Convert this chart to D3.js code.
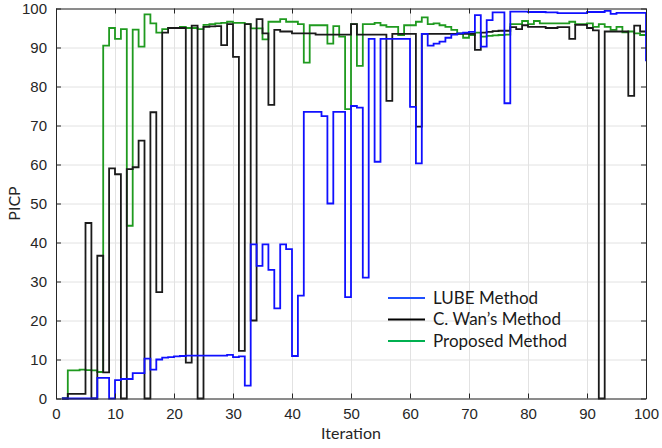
<!DOCTYPE html>
<html>
<head>
<meta charset="utf-8">
<script src="https://cdn.jsdelivr.net/npm/d3@7"></script>
<style>
  html, body { margin: 0; padding: 0; background: #fff; }
  svg { display: block; }
</style>
</head>
<body>
<div id="chart"></div>
<script>
// PICP per iteration (stairs)
const iterations = d3.range(1, 101);

const lubeValues = [
  0, 0, 0, 0, 0, 0, 5.3, 5.3, 0, 4.7,
  5.0, 5.0, 6.5, 6.5, 10.2, 7.4, 10.0, 10.5, 10.6, 10.8,
  10.9, 11, 11, 11, 11, 11, 11, 11, 11.2, 10.6,
  10.8, 3.3, 39.5, 34, 39.5, 33, 23.1, 39.5, 38.3, 10.9,
  26.4, 73.5, 73.5, 73.5, 72.4, 50, 73.5, 73.5, 26, 75,
  74.6, 31, 92.2, 60.7, 92.2, 92.2, 92.2, 92.2, 92.2, 74.8,
  60.3, 93.5, 90.5, 91, 91.5, 92.5, 93.3, 93.6, 93.8, 94,
  98.3, 90.2, 97, 99, 99, 75.7, 99.2, 99.2, 99.2, 99.1,
  99.1, 99.1, 99, 99, 98.8, 98.8, 98.8, 98.8, 98.8, 99.1,
  99.1, 99.1, 99.4, 98.6, 98.9, 98.9, 98.9, 98.9, 98.9, 86.5
];

const wanValues = [
  0, 1.2, 1.2, 1.2, 45, 0, 36.6, 6.7, 59, 57.5,
  0, 58.8, 59.3, 66.1, 0, 73.4, 27.3, 93.8, 95, 95,
  95, 9.2, 95.6, 0, 95.3, 95.4, 95.5, 90.6, 96, 87.6,
  12.2, 96, 20, 97.3, 93.6, 75.3, 94.5, 94.1, 94.1, 93.6,
  93.6, 93.6, 93.6, 93.3, 93.3, 93.3, 93.3, 93.3, 93.3, 96,
  93.3, 93.3, 93.3, 93.3, 93.3, 76.3, 93.5, 93.5, 93.5, 93.5,
  69.7, 93.5, 93.5, 93.5, 93.5, 93.5, 93.5, 93.5, 93.5, 93.5,
  89.4, 93.8, 94, 94.2, 94.3, 94.3, 95.2, 94.7, 95.7, 95.3,
  95.3, 95.3, 95, 95, 95.2, 95.2, 92.2, 95.8, 95.8, 95,
  94.4, 0, 94.1, 94.1, 94.1, 94.1, 77.6, 95.6, 94.1, 94
];

const proposedValues = [
  0, 7.2, 7.2, 7.4, 7.3, 7.2, 6.8, 90.5, 95, 92.2,
  94.7, 44.3, 94.6, 90.2, 98.5, 96.2, 93.8, 94.7, 95, 95,
  95.3, 95, 95, 94.7, 95.8, 96, 96.2, 96.3, 96.6, 96.3,
  96.3, 96, 94.9, 94.9, 92.1, 96.6, 96.6, 97.3, 96.6, 96.6,
  96, 86.1, 95.7, 95.7, 95.7, 91, 95.5, 92.8, 74.2, 96,
  85.3, 96, 96, 96.3, 95.7, 95.3, 95.3, 93.2, 95.7, 95.7,
  96.6, 97.7, 96, 96.2, 95.7, 95.3, 94.5, 93.6, 92.5, 93.2,
  93.8, 92.8, 93, 93.1, 93.2, 93.3, 96, 96, 96.8, 96,
  96.8, 96.2, 96.2, 96.2, 96.2, 96.2, 96.6, 96, 96, 96.2,
  95.3, 96, 95.3, 94.5, 95.3, 93.9, 94.1, 93.6, 93.2, 93
];

const xTicks = d3.range(0, 101, 10);
const yTicks = d3.range(0, 101, 10);

// Drawn in this order, last one on top
const series = [
  { name: 'Proposed Method', values: proposedValues, color: '#1f9a1f', legendColor: '#00b050' },
  { name: 'C. Wan\u2019s Method', values: wanValues, color: '#1a1a1a', legendColor: '#000000' },
  { name: 'LUBE Method', values: lubeValues, color: '#1010ff', legendColor: '#1f4fff' }
];
const legendOrder = ['LUBE Method', 'C. Wan\u2019s Method', 'Proposed Method'];

const width = 662;
const height = 448;
const margin = { top: 8.5, right: 16, bottom: 49.5, left: 56 };
const innerW = width - margin.left - margin.right;
const innerH = height - margin.top - margin.bottom;

const svg = d3.select('#chart').append('svg')
  .attr('width', width)
  .attr('height', height);

const g = svg.append('g')
  .attr('transform', `translate(${margin.left},${margin.top})`);

const x = d3.scaleLinear().domain([0, 100]).range([0, innerW]);
const y = d3.scaleLinear().domain([0, 100]).range([innerH, 0]);

// Grid
g.append('g')
  .attr('class', 'x-grid')
  .attr('transform', `translate(0,${innerH})`)
  .call(d3.axisBottom(x).tickValues(xTicks).tickSize(-innerH).tickFormat(''))
  .call(s => s.select('.domain').remove())
  .selectAll('line')
  .style('stroke', '#e2e2e2');

g.append('g')
  .attr('class', 'y-grid')
  .call(d3.axisLeft(y).tickValues(yTicks).tickSize(-innerW).tickFormat(''))
  .call(s => s.select('.domain').remove())
  .selectAll('line')
  .style('stroke', '#e2e2e2');

// Lines (stairs)
const line = d3.line()
  .x((d, i) => x(iterations[i]))
  .y(d => y(d))
  .curve(d3.curveStepAfter);

g.append('g')
  .attr('class', 'lines')
  .selectAll('path')
  .data(series)
  .join('path')
  .attr('d', d => line(d.values))
  .attr('fill', 'none')
  .attr('stroke', d => d.color)
  .attr('stroke-width', 1.8)
  .attr('stroke-linejoin', 'miter');

// Axes, MATLAB style: ticks inside, box on
const axisColor = '#262626';
const tickFont = '"Liberation Sans", Arial, sans-serif';

const xAxis = g.append('g')
  .attr('transform', `translate(0,${innerH})`)
  .call(d3.axisBottom(x).tickValues(xTicks).tickSizeInner(-5).tickSizeOuter(0).tickPadding(10));

const yAxis = g.append('g')
  .call(d3.axisLeft(y).tickValues(yTicks).tickSizeInner(-5).tickSizeOuter(0).tickPadding(9));

const xTop = g.append('g')
  .call(d3.axisTop(x).tickValues(xTicks).tickSizeInner(-5).tickSizeOuter(0).tickFormat(''));

const yRight = g.append('g')
  .attr('transform', `translate(${innerW},0)`)
  .call(d3.axisRight(y).tickValues(yTicks).tickSizeInner(-5).tickSizeOuter(0).tickFormat(''));

[xAxis, yAxis, xTop, yRight].forEach(a => {
  a.selectAll('path, line').style('stroke', axisColor).style('stroke-width', 1);
  a.selectAll('text')
    .style('fill', axisColor)
    .style('font-family', tickFont)
    .style('font-size', '15px');
});

// Axis titles
const labelFont = 'Lato, "Open Sans", sans-serif';

svg.append('text')
  .attr('x', margin.left + innerW / 2)
  .attr('y', 439)
  .attr('text-anchor', 'middle')
  .style('font-family', labelFont)
  .style('font-size', '16px')
  .style('fill', axisColor)
  .text('Iteration');

svg.append('text')
  .attr('transform', `translate(20,${margin.top + innerH / 2}) rotate(-90)`)
  .attr('text-anchor', 'middle')
  .style('font-family', labelFont)
  .style('font-size', '16px')
  .style('fill', axisColor)
  .text('PICP');

// Legend (no box)
const legend = svg.append('g')
  .attr('class', 'legend')
  .attr('transform', 'translate(388,298)');

const legendItems = legend.selectAll('g')
  .data(legendOrder.map(n => series.find(s => s.name === n)))
  .join('g')
  .attr('transform', (d, i) => `translate(0,${i * 21.5})`);

legendItems.append('line')
  .attr('x1', 0)
  .attr('x2', 37)
  .attr('stroke', d => d.legendColor)
  .attr('stroke-width', 2);

legendItems.append('text')
  .attr('x', 45)
  .attr('dy', '0.35em')
  .style('font-family', labelFont)
  .style('font-size', '17px')
  .style('fill', '#1a1a1a')
  .text(d => d.name);
</script>
</body>
</html>
